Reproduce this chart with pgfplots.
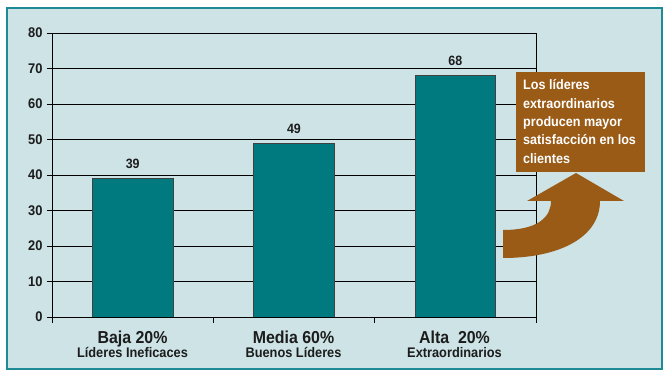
\documentclass[border=0pt]{standalone}
\usepackage{pgfplots}
\pgfplotsset{compat=1.18}
\usepackage{fontspec}
\setmainfont{Liberation Sans}[FakeStretch=0.92]
\definecolor{bgblue}{HTML}{CDE3E6}
\definecolor{bordert}{HTML}{1E8A96}
\definecolor{barteal}{HTML}{007A7E}
\definecolor{brownc}{HTML}{9A5B17}
\definecolor{txt}{HTML}{1C1C1C}
\begin{document}
\begin{tikzpicture}[x=1pt,y=1pt]
\fill[white] (0,0) rectangle (670,377);
\fill[bgblue] (7,8) rectangle (662,369);
\draw[bordert,line width=2pt] (7,8) rectangle (662,369);
\begin{axis}[
  at={(52pt,60pt)}, anchor=south west,
  scale only axis, width=484pt, height=284pt,
  xmin=-0.5, xmax=2.5, ymin=0, ymax=80,
  ytick={0,10,...,80},
  xtick={0,1,2},
  xticklabels={},
  major x tick style={draw=none},
  minor xtick={-0.5,0.5,1.5,2.5},
  minor tick length=6pt,
  major tick length=5pt,
  tick align=outside,
  tick pos=left,
  ymajorgrids=true,
  grid style={black, line width=0.8pt},
  axis line style={black, line width=0.8pt},
  tick style={black, line width=0.8pt},
  /pgf/number format/assume math mode=true,
  yticklabel style={font=\fontsize{14}{15}\selectfont\bfseries, text=txt, xshift=-1pt},
  xticklabel style={align=center, text=txt},
  axis background/.style={fill=bgblue},
  ybar, bar width=0.5,
  nodes near coords,
  nodes near coords style={font=\fontsize{13.5}{15}\selectfont\bfseries, text=txt, yshift=6pt},
]
\addplot[fill=barteal, draw=black!75, line width=0.6pt] coordinates {(0,39) (1,49) (2,68)};
\end{axis}
% category labels
\node[txt, font=\fontsize{17.3}{19}\selectfont\bfseries, anchor=base] at (132.5,33) {Baja 20\%};
\node[txt, font=\fontsize{13.9}{15}\selectfont\bfseries, anchor=base] at (132.5,19) {Líderes Ineficaces};
\node[txt, font=\fontsize{17.3}{19}\selectfont\bfseries, anchor=base] at (293.5,33) {Media 60\%};
\node[txt, font=\fontsize{13.9}{15}\selectfont\bfseries, anchor=base] at (293.5,19) {Buenos Líderes};
\node[txt, font=\fontsize{17.3}{19}\selectfont\bfseries, anchor=base] at (454.5,33) {Alta\ \ 20\%};
\node[txt, font=\fontsize{13.9}{15}\selectfont\bfseries, anchor=base] at (454.5,19) {Extraordinarios};
% arrow
\fill[brownc] (503,147) .. controls (538,147) and (551,160) .. (551,176) -- (527,176) -- (576,204) -- (624,176) -- (600,176) .. controls (600,140) and (560,119) .. (503,119) -- cycle;
% callout box
\fill[brownc] (516,205) rectangle (645,305);
\node[white, anchor=base west, align=left, inner sep=0pt, font=\fontsize{13.7}{18.3}\selectfont\bfseries] at (523,213.8) {Los líderes\\extraordinarios\\producen mayor\\satisfacción en los\\clientes};
\end{tikzpicture}
\end{document}
